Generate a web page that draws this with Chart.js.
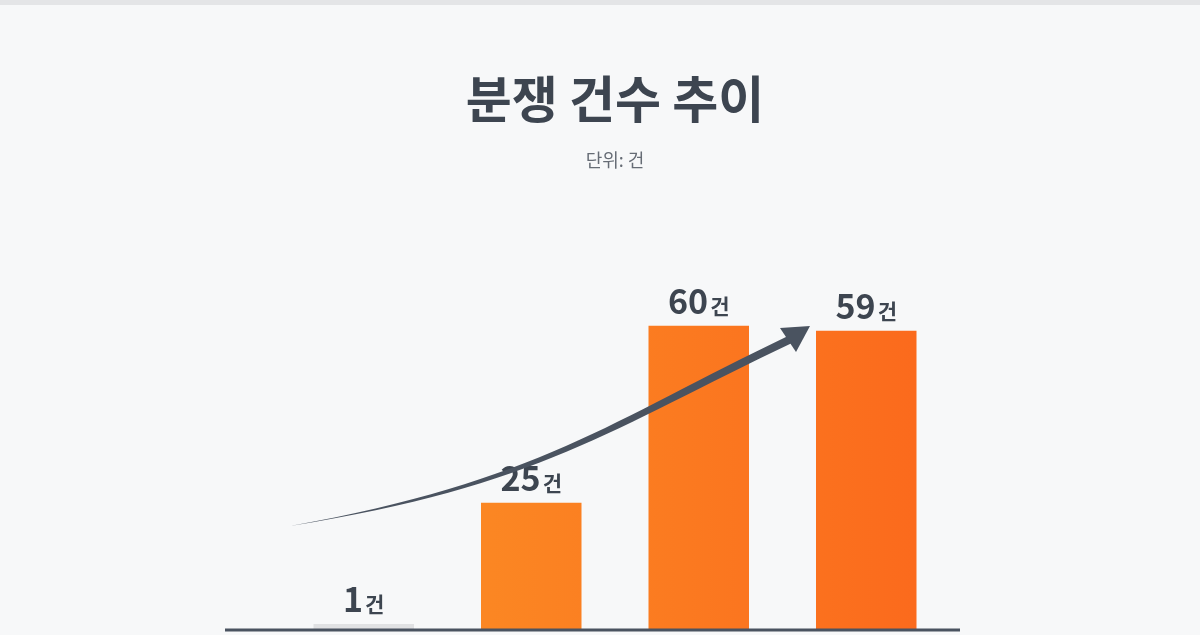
<!DOCTYPE html>
<html><head><meta charset="utf-8">
<script src="https://cdn.jsdelivr.net/npm/chart.js@4"></script>
<style>html,body{margin:0;background:#f7f8f9;}#w{width:1200px;height:635px;position:relative;border-top:5px solid #e4e5e7;box-sizing:border-box}</style>
</head><body><div id="w"><canvas id="c"></canvas></div>
<script>
const categories = ['1', '2', '3', '4'];
const values = [1, 25, 60, 59];
const unit = '건';
const F = "'Noto Sans CJK KR','Noto Sans',sans-serif";
const ctx = document.getElementById('c');
const deco = {
  id: 'deco',
  afterDatasetsDraw(chart) {
    const c = chart.ctx, a = chart.chartArea;
    const meta = chart.getDatasetMeta(0);
    c.save();
    meta.data.forEach((b, i) => {
      c.font = "bold 34px " + F;
      const n = String(values[i]);
      const nw = c.measureText(n).width;
      c.font = "bold 21px " + F;
      const uw = c.measureText(unit).width;
      const x0 = b.x - (nw + uw + 2) / 2, y = b.y - 12;
      c.fillStyle = '#3d4550'; c.textBaseline = 'alphabetic'; c.textAlign = 'left';
      c.font = "bold 34px " + F; c.fillText(n, x0, y);
      c.font = "bold 21px " + F; c.fillText(unit, x0 + nw + 2, y);
    });
    c.strokeStyle = '#4a5360'; c.lineWidth = 3;
    c.beginPath(); c.moveTo(225, a.bottom + 1); c.lineTo(960, a.bottom + 1); c.stroke();
    // decorative trend arrow
    const p0 = {x: 290, y: a.bottom - 103};
    const p1 = {x: 810, y: a.bottom - 303};
    c.fillStyle = '#4a5360';
    c.beginPath();
    c.moveTo(p0.x, p0.y);
    c.bezierCurveTo(p0.x + 250, p0.y - 45, p1.x - 200, p1.y + 95, p1.x - 22, p1.y + 10);
    c.lineTo(p1.x - 18, p1.y + 17);
    c.bezierCurveTo(p1.x - 200, p1.y + 103, p0.x + 250, p0.y - 40, p0.x, p0.y);
    c.fill();
    c.beginPath();
    c.moveTo(p1.x, p1.y); c.lineTo(p1.x - 30, p1.y + 2); c.lineTo(p1.x - 14, p1.y + 26); c.closePath(); c.fill();
    c.restore();
  }
};
new Chart(ctx, {
  type: 'bar',
  data: { labels: categories, datasets: [{ data: values,
    backgroundColor: (c) => {
      if (c.dataIndex === 0) return '#e0e1e3';
      const ch = c.chart, a = ch.chartArea;
      if (!a) return '#fa7d20';
      const g = ch.ctx.createLinearGradient(a.left, 0, a.right, 0);
      g.addColorStop(0, '#fb9426'); g.addColorStop(1, '#fb681c');
      return g;
    },
    barPercentage: 0.6, categoryPercentage: 1 }] },
  options: {
    responsive: true, maintainAspectRatio: false, animation: false,
    layout: { padding: { left: 280, right: 250, bottom: 6 } },
    scales: {
      x: { display: false, grid: { display: false } },
      y: { display: false, min: 0, max: 64 }
    },
    plugins: {
      legend: { display: false }, tooltip: { enabled: false },
      title: { display: true, text: '분쟁 건수 추이', color: '#3d4550',
        font: { family: F, size: 50, weight: 'bold' }, padding: { top: 64, bottom: 20 } },
      subtitle: { display: true, text: '단위: 건', color: '#666c75',
        font: { family: F, size: 18 }, padding: { top: 0, bottom: 135 } }
    }
  },
  plugins: [deco]
});
</script></body></html>
